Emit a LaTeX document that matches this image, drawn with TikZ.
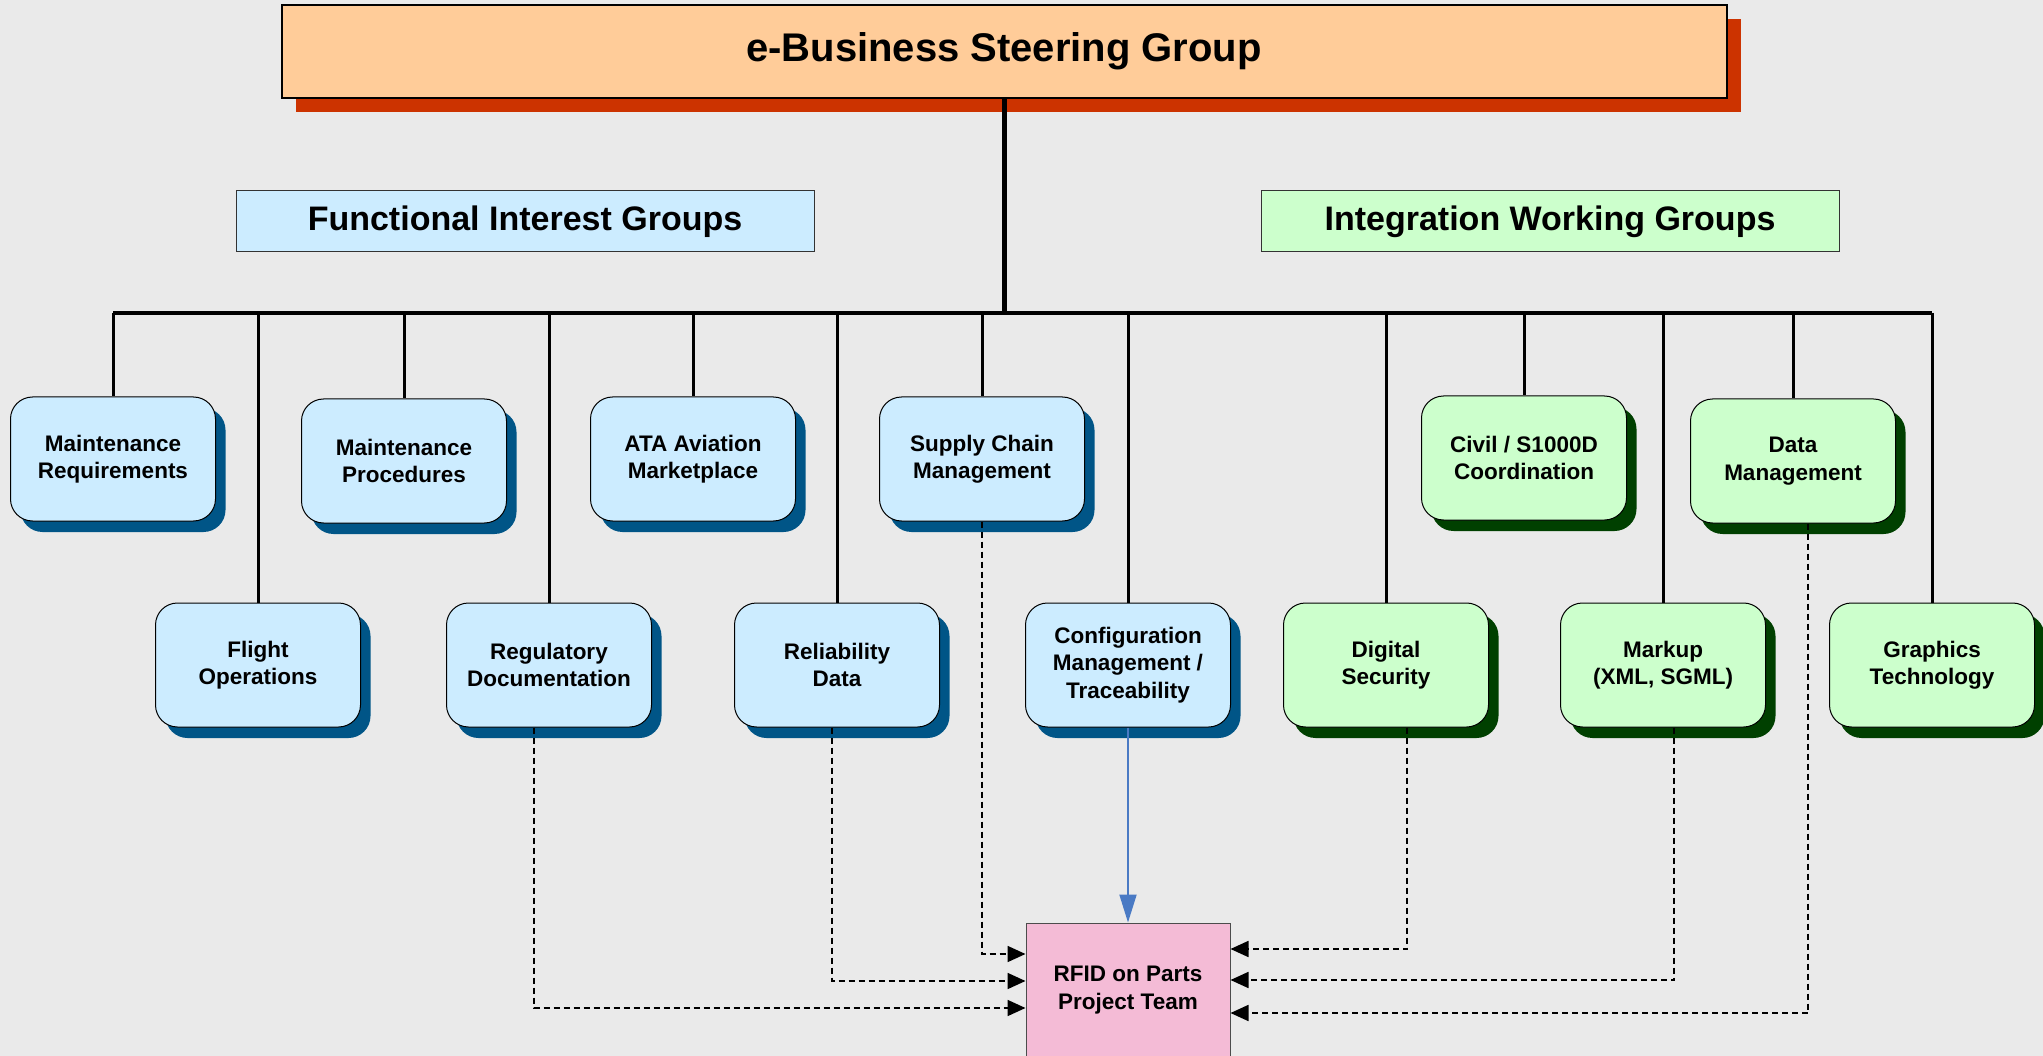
\documentclass[tikz,border=0pt]{standalone}
\usepackage{fontspec}
\setmainfont{Liberation Sans}
\usetikzlibrary{calc,shadows,arrows.meta}

\definecolor{bggray}{HTML}{EAEAEA}
\definecolor{funcblue}{HTML}{CCECFF}
\definecolor{funcshade}{HTML}{005587}
\definecolor{intgreen}{HTML}{CCFFCC}
\definecolor{intshade}{HTML}{004000}
\definecolor{steerfill}{HTML}{FFCC99}
\definecolor{steershade}{HTML}{CC3300}
\definecolor{rfidpink}{HTML}{F4BBD6}
\definecolor{linkblue}{HTML}{4A7AC4}

\tikzset{
	grpbox/.style={rectangle, rounded corners=22pt, draw=black, line width=1pt,
		minimum width=205pt, minimum height=124pt, align=center,
		font=\fontsize{22.5}{27.5}\selectfont\bfseries},
	funcbox/.style={grpbox, fill=funcblue,
		drop shadow={shadow xshift=10pt, shadow yshift=-11pt, fill=funcshade, opacity=1}},
	intbox/.style={grpbox, fill=intgreen,
		drop shadow={shadow xshift=10pt, shadow yshift=-11pt, fill=intshade, opacity=1}},
	headbox/.style={rectangle, draw=black!80, line width=1pt, minimum width=578pt,
		minimum height=61pt, font=\fontsize{34}{40}\selectfont\bfseries},
	dashlink/.style={draw=black, line width=1.8pt, dash pattern=on 6pt off 4pt,
		-{Triangle[length=18pt,width=16pt]}},
}

\begin{document}
\begin{tikzpicture}[x=1pt, y=-1pt]
		%%%%% START %%%%%
		\useasboundingbox (0, 0) rectangle (2043, 1056);
		\fill[bggray] (0, 0) rectangle (2043, 1056);
		
		% steering group
		\node[rectangle, draw=black, line width=2pt, fill=steerfill, minimum width=1445pt,
			minimum height=93pt, font=\fontsize{40}{48}\selectfont\bfseries,
			drop shadow={shadow xshift=14pt, shadow yshift=-14pt, fill=steershade, opacity=1}]
			(steer) at (1004, 51.5) {e-Business Steering Group};
		
		\node[headbox, fill=funcblue] (fighead) at (525, 221.5) {Functional Interest Groups};
		\node[headbox, fill=intgreen] (iwghead) at (1550, 221.5) {Integration Working Groups};
		
		% functional interest groups
		\node[funcbox] (mreq) at (113, 459) {Maintenance\\Requirements};
		\node[funcbox] (fops) at (258, 665) {Flight\\Operations};
		\node[funcbox] (mproc) at (404, 461) {Maintenance\\Procedures};
		\node[funcbox] (regdoc) at (549, 665) {Regulatory\\Documentation};
		\node[funcbox] (ata) at (693, 459) {ATA Aviation\\Marketplace};
		\node[funcbox] (reldata) at (837, 665) {Reliability\\Data};
		\node[funcbox] (scm) at (982, 459) {Supply Chain\\Management};
		\node[funcbox] (cmt) at (1128, 665) {Configuration\\Management /\\Traceability};
		
		% integration working groups
		\node[intbox] (digsec) at (1386, 665) {Digital\\Security};
		\node[intbox] (civil) at (1524, 458) {Civil / S1000D\\Coordination};
		\node[intbox] (markup) at (1663, 665) {Markup\\(XML, SGML)};
		\node[intbox] (dataman) at (1793, 461) {Data\\Management};
		\node[intbox] (graph) at (1932, 665) {Graphics\\Technology};
		
		\node[rectangle, draw=black!70, line width=1pt, fill=rfidpink, minimum width=204pt,
			minimum height=134pt, align=center, font=\fontsize{22.5}{27.5}\selectfont\bfseries]
			(rfid) at (1128, 990) {RFID on Parts\\Project Team};
		
		% tree
		\coordinate (bus) at (1004, 313);
		\draw[line width=5pt] (steer.south) -- (bus);
		\draw[line width=4pt] (bus -| mreq) -- (bus -| graph);
		\foreach \grp in {mreq, fops, mproc, regdoc, ata, reldata, scm, cmt, digsec, civil, markup, dataman, graph}
			\draw[line width=3pt] (bus -| \grp) -- (\grp.north);
		
		% links to the project team
		\draw[linkblue, line width=2pt, -{Triangle[length=28pt,width=17pt]}] (cmt.south) -- (rfid.north);
		\draw[dashlink] (scm.south) |- ($(rfid.west)+(0,-36)$);
		\draw[dashlink] ($(reldata.south)+(-5,0)$) |- ($(rfid.west)+(0,-9)$);
		\draw[dashlink] ($(regdoc.south)+(-15,0)$) |- ($(rfid.west)+(0,18)$);
		\draw[dashlink] ($(digsec.south)+(21,0)$) |- ($(rfid.east)+(0,-41)$);
		\draw[dashlink] ($(markup.south)+(11,0)$) |- ($(rfid.east)+(0,-10)$);
		\draw[dashlink] ($(dataman.south)+(15,0)$) |- ($(rfid.east)+(0,23)$);
		
		%%%%% END %%%%%
	\end{tikzpicture}
\end{document}
